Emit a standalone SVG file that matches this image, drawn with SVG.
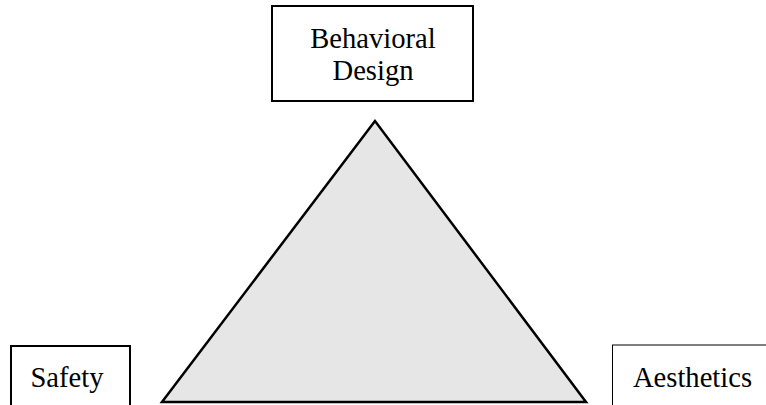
<svg xmlns="http://www.w3.org/2000/svg" width="766" height="405" viewBox="0 0 766 405">
<style>
.lbl{font-family:"Liberation Serif","Times New Roman",serif;font-size:28.6px;fill:#000;text-anchor:middle}
.box{fill:#fff;stroke:#000}
</style>
<rect width="766" height="405" fill="#fff"/>
<g id="connectors"></g>
<g id="triangle">
<polygon points="375,121 162,402 586,402" fill="#e6e6e6" stroke="#000" stroke-width="2.5" stroke-linejoin="miter"/>
</g>
<g id="behavioral-design">
<rect class="box" x="272" y="6" width="201" height="95" stroke-width="2"/>
<text class="lbl" x="373" y="48">Behavioral</text>
<text class="lbl" x="373" y="80">Design</text>
</g>
<g id="safety">
<rect class="box" x="11" y="346" width="119" height="80" stroke-width="2"/>
<text class="lbl" x="67" y="387">Safety</text>
</g>
<g id="aesthetics">
<rect class="box" x="612.5" y="345" width="170" height="80" stroke-width="1"/>
<text class="lbl" x="692.5" y="387">Aesthetics</text>
</g>
</svg>
